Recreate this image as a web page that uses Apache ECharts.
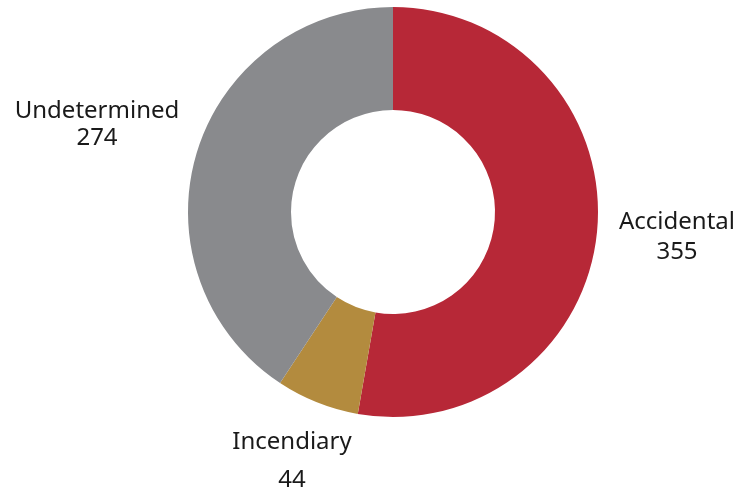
<!DOCTYPE html>
<html><head><meta charset="utf-8">
<script src="https://cdn.jsdelivr.net/npm/echarts@6/dist/echarts.min.js"></script>
<style>html,body{margin:0;padding:0;background:#fff}#c{width:754px;height:492px}</style>
</head><body><div id="c"></div>
<script>
const categories = ["Accidental", "Incendiary", "Undetermined"];
const values = [355, 44, 274];
const colors = ["#B72837", "#B38B3E", "#898A8D"];
const lineHeights = [30, 38, 27];
const labelCenters = [[677, 237], [292, 461], [97, 125]];
const chart = echarts.init(document.getElementById('c'), null, {renderer: 'canvas'});
chart.setOption({
  animation: false,
  series: [{
    type: 'pie',
    center: [393, 212],
    radius: [102, 205],
    startAngle: 90,
    clockwise: true,
    data: categories.map((c, i) => ({
      name: c, value: values[i], itemStyle: {color: colors[i]},
      label: {rich: {t: {align: 'center', lineHeight: lineHeights[i]}}}
    })),
    label: {
      show: true,
      position: 'outside',
      overflow: 'none',
      bleedMargin: 0,
      edgeDistance: 0,
      formatter: '{t|{b}}\n{t|{c}}',
      fontFamily: 'Noto Sans',
      fontSize: 24,
      color: '#1a1a1a',
      rich: {t: {fontFamily: 'Noto Sans', fontSize: 24, color: '#1a1a1a', align: 'center'}}
    },
    labelLine: {show: false},
    labelLayout: function (p) {
      const c = labelCenters[p.dataIndex];
      return {x: c[0], y: c[1], align: 'center', verticalAlign: 'middle'};
    },
    emphasis: {disabled: true}
  }]
});
</script></body></html>
